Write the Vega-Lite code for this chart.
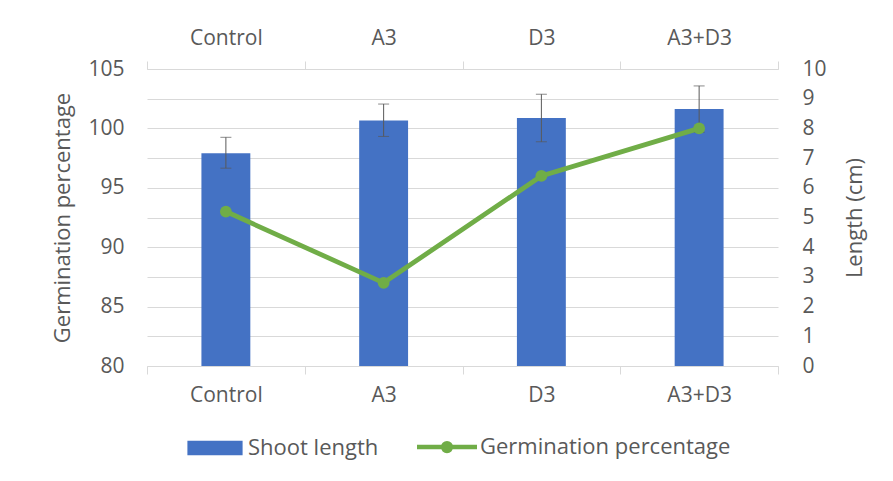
{
  "$schema": "https://vega.github.io/schema/vega-lite/v6.json",
  "width": 631,
  "height": 297,
  "autosize": "none",
  "padding": {"left": 147, "top": 69, "right": 115, "bottom": 115},
  "background": "white",
  "config": {
    "view": {"stroke": null},
    "font": "Open Sans",
    "axis": {
      "labelFont": "Open Sans",
      "labelFontSize": 21,
      "labelColor": "#595959",
      "titleFont": "Open Sans",
      "titleFontSize": 22,
      "titleFontWeight": "normal",
      "titleColor": "#595959",
      "gridColor": "#d9d9d9",
      "gridWidth": 1,
      "domainColor": "#d9d9d9",
      "tickColor": "#d9d9d9",
      "labelOverlap": false
    }
  },
  "data": {
    "values": [
      {"treatment": "Control", "shoot": 7.16, "shoot_lo": 6.66, "shoot_hi": 7.7, "germ": 93.0},
      {"treatment": "A3", "shoot": 8.27, "shoot_lo": 7.73, "shoot_hi": 8.82, "germ": 87.0},
      {"treatment": "D3", "shoot": 8.35, "shoot_lo": 7.55, "shoot_hi": 9.15, "germ": 96.0},
      {"treatment": "A3+D3", "shoot": 8.65, "shoot_lo": 7.87, "shoot_hi": 9.43, "germ": 100.0}
    ]
  },
  "layer": [
    {
      "encoding": {
        "x": {
          "field": "treatment", "type": "nominal",
          "sort": ["Control", "A3", "D3", "A3+D3"],
          "scale": {"paddingInner": 0, "paddingOuter": 0},
          "axis": {
            "orient": "bottom", "title": null, "labelAngle": 0,
            "tickBand": "extent", "ticks": true, "tickSize": 8,
            "labelPadding": 10, "domain": true, "grid": false
          }
        }
      },
      "layer": [
        {
          "mark": {"type": "bar", "width": {"band": 0.31}},
          "encoding": {
            "y": {
              "field": "shoot", "type": "quantitative",
              "scale": {"domain": [0, 10], "nice": false},
              "axis": {
                "orient": "right", "title": "Length (cm)",
                "values": [0, 1, 2, 3, 4, 5, 6, 7, 8, 9, 10],
                "grid": true, "ticks": false, "domain": false, "labelOverlap": false,
                "labelPadding": 24, "titlePadding": 40, "titleAngle": 270
              }
            },
            "color": {
              "datum": "Shoot length",
              "scale": {"domain": ["Shoot length", "Germination percentage"], "range": ["#4472C4", "#70AD47"]},
              "legend": {
                "orient": "none", "legendX": 57, "legendY": 367,
                "direction": "horizontal", "title": null,
                "symbolSize": 3600, "labelFontSize": 22, "labelColor": "#595959",
                "labelFont": "Open Sans", "labelLimit": 0, "columnPadding": 29, "labelOffset": 22,
                "encode": {
                  "symbols": {
                    "update": {
                      "shape": {"signal": "datum.value === 'Shoot length' ? 'M-0.92,-0.24H0.92V0.24H-0.92Z' : 'M-1,0H1M0.13,0A0.13,0.13 0 1 1 -0.13,0A0.13,0.13 0 1 1 0.13,0Z'"},
                      "size": {"value": 3600},
                      "fill": {"signal": "datum.value === 'Shoot length' ? '#4472C4' : '#70AD47'"},
                      "stroke": {"signal": "datum.value === 'Shoot length' ? '#4472C4' : '#70AD47'"},
                      "strokeWidth": {"signal": "datum.value === 'Shoot length' ? 0 : 4.5"},
                      "opacity": {"value": 1},
                      "fillOpacity": {"value": 1},
                      "strokeOpacity": {"value": 1}
                    }
                  }
                }
              }
            }
          }
        },
        {
          "mark": {"type": "rule", "color": "#595959", "strokeWidth": 1},
          "encoding": {
            "y": {
              "field": "shoot_lo", "type": "quantitative",
              "axis": {
                "orient": "right", "title": "Length (cm)",
                "values": [0, 1, 2, 3, 4, 5, 6, 7, 8, 9, 10],
                "grid": true, "ticks": false, "domain": false, "labelOverlap": false,
                "labelPadding": 24, "titlePadding": 40, "titleAngle": 270
              }
            },
            "y2": {"field": "shoot_hi"}
          }
        },
        {
          "mark": {"type": "tick", "orient": "horizontal", "size": 11, "thickness": 1, "color": "#595959"},
          "encoding": {
            "y": {
              "field": "shoot_hi", "type": "quantitative",
              "axis": {
                "orient": "right", "title": "Length (cm)",
                "values": [0, 1, 2, 3, 4, 5, 6, 7, 8, 9, 10],
                "grid": true, "ticks": false, "domain": false, "labelOverlap": false,
                "labelPadding": 24, "titlePadding": 40, "titleAngle": 270
              }
            }
          }
        },
        {
          "mark": {"type": "tick", "orient": "horizontal", "size": 11, "thickness": 1, "color": "#595959"},
          "encoding": {
            "y": {
              "field": "shoot_lo", "type": "quantitative",
              "axis": {
                "orient": "right", "title": "Length (cm)",
                "values": [0, 1, 2, 3, 4, 5, 6, 7, 8, 9, 10],
                "grid": true, "ticks": false, "domain": false, "labelOverlap": false,
                "labelPadding": 24, "titlePadding": 40, "titleAngle": 270
              }
            }
          }
        }
      ]
    },
    {
      "mark": {"type": "line", "strokeWidth": 4.8, "point": {"filled": true, "size": 140, "color": "#70AD47"}},
      "encoding": {
        "x": {
          "field": "treatment", "type": "nominal",
          "sort": ["Control", "A3", "D3", "A3+D3"],
          "axis": {
            "orient": "top", "title": null, "labelAngle": 0,
            "tickBand": "extent", "ticks": true, "tickSize": 8,
            "labelPadding": 13, "domain": true, "grid": false
          }
        },
        "y": {
          "field": "germ", "type": "quantitative",
          "scale": {"domain": [80, 105], "nice": false, "zero": false},
          "axis": {
            "orient": "left", "title": "Germination percentage",
            "values": [80, 85, 90, 95, 100, 105],
            "grid": false, "ticks": false, "domain": false,
            "labelPadding": 23, "titlePadding": 13
          }
        },
        "color": {"datum": "Germination percentage"}
      }
    }
  ],
  "resolve": {"scale": {"y": "independent"}, "axis": {"x": "independent"}}
}
